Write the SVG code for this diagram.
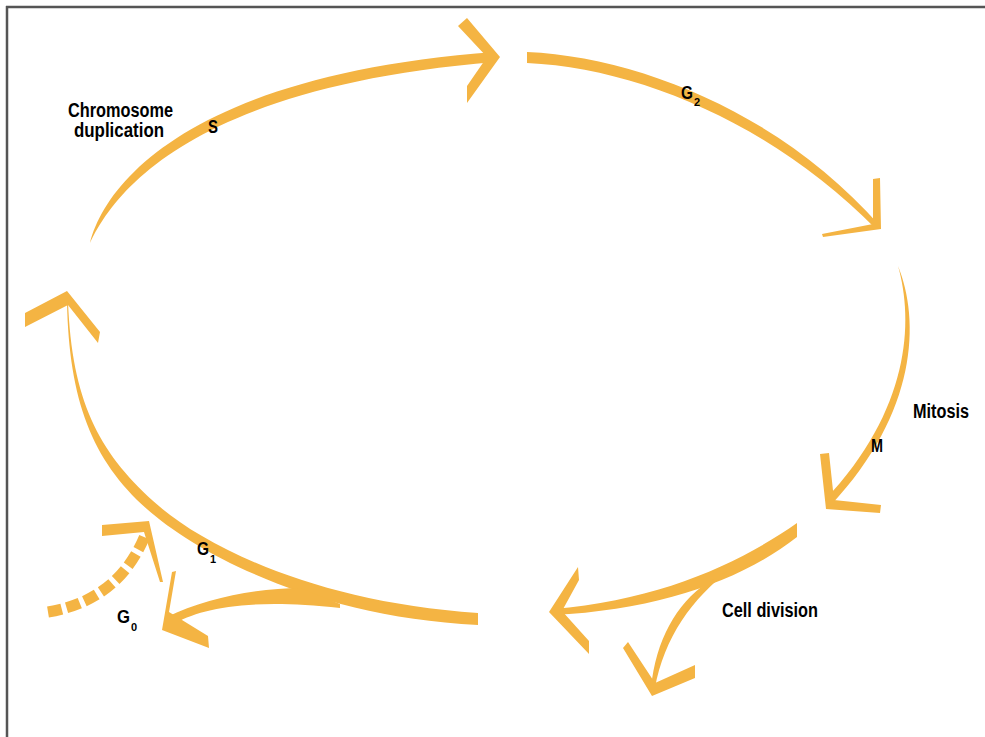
<svg xmlns="http://www.w3.org/2000/svg" width="985" height="737" viewBox="0 0 985 737">
<style>
.arw{fill:#F4B443;stroke:none}
.dash{fill:none;stroke:#F4B443;stroke-width:11;stroke-dasharray:14 5}
.lbl{font-family:"Liberation Sans",Arial,sans-serif;font-weight:bold;fill:#000}
.frame{stroke:#555;stroke-width:2.5;fill:none}
</style>
<rect x="0" y="0" width="985" height="737" fill="#fff"/>
<g id="frame">
<line class="frame" x1="6" y1="7" x2="985" y2="7"/>
<line class="frame" x1="7" y1="6" x2="7" y2="737"/>
</g>
<g id="connectors">
<g id="arrow-S">
<path class="arw" d="M90,243 C106,180 196,74 495,52 L495,62 C205,86 118,183 90,243 Z"/>
<path class="arw" d="M458,26 L467,18 L500,57 L467,103 L467,86 L487,57 Z"/>
</g>
<g id="arrow-G2">
<path class="arw" d="M527,52 C640,57 783,115 880,226 L876,229 C775,126 640,68 527,63 Z"/>
<path class="arw" d="M873,179 L880,178 L881,229 L823,237 L822,234 L873,224 Z"/>
</g>
<g id="arrow-M">
<path class="arw" d="M898,266 C920,320 918,412 831,505 L825,500 C910,410 914,322 898,266 Z"/>
<path class="arw" d="M820,454 L829,453 L834,500 L881,505 L880,513 L826,509 Z"/>
</g>
<g id="arrow-division">
<path class="arw" d="M797,523 C740,563 660,600 553,609 L553,615 C662,610 745,578 797,537 Z"/>
<path class="arw" d="M578,567 L579,580 L562,611 L589,641 L589,654 L549,612 Z"/>
<path class="arw" d="M732,568 C692,598 664,638 655,688 L651,688 C656,640 676,604 707,583 Z"/>
<path class="arw" d="M623,648 L628,642 L655,683 L695,665 L695,678 L652,696 Z"/>
</g>
<g id="arrow-G1">
<path class="arw" d="M67,302 C69,400 92,460 146.6,508.7 C200,556 318,617 478,625 L478,613 C322,603 206,549 153.4,501.3 C98,451 72,400 68,302 Z"/>
<path class="arw" d="M25,313 L67,291 L100,332 L98,343 L68,305 L25,327 Z"/>
<path class="arw" d="M340,604 L300,588 C260,588 205,598 167,617 L172,625 C200,608 250,598 340,608 Z"/>
<path class="arw" d="M172,572 L176,571 L169,612 L208,636 L209,648 L162,630 Z"/>
</g>
<g id="arrow-G0">
<path class="dash" d="M48,612 Q120,600 146,533"/>
<path class="arw" d="M102,525 L149,521 L163,582 L160,582 L144,532 L102,536 Z"/>
</g>
</g>
<g id="labels">
<g id="label-chromosome">
<text class="lbl" x="68" y="117" font-size="20" textLength="105" lengthAdjust="spacingAndGlyphs">Chromosome</text>
<text class="lbl" x="74" y="137" font-size="20" textLength="90" lengthAdjust="spacingAndGlyphs">duplication</text>
</g>
<g id="label-S"><text class="lbl" x="208" y="133" font-size="18" textLength="10" lengthAdjust="spacingAndGlyphs">S</text></g>
<g id="label-G2"><text class="lbl" x="681" y="99" font-size="19" textLength="12" lengthAdjust="spacingAndGlyphs">G</text><text class="lbl" x="694" y="106" font-size="11">2</text></g>
<g id="label-mitosis"><text class="lbl" x="913" y="418" font-size="20" textLength="56" lengthAdjust="spacingAndGlyphs">Mitosis</text></g>
<g id="label-M"><text class="lbl" x="871" y="452" font-size="18" textLength="12" lengthAdjust="spacingAndGlyphs">M</text></g>
<g id="label-division"><text class="lbl" x="722" y="617" font-size="20" textLength="96" lengthAdjust="spacingAndGlyphs">Cell division</text></g>
<g id="label-G1"><text class="lbl" x="197" y="555" font-size="19" textLength="12" lengthAdjust="spacingAndGlyphs">G</text><text class="lbl" x="210" y="563" font-size="11">1</text></g>
<g id="label-G0"><text class="lbl" x="117" y="623" font-size="19" textLength="13" lengthAdjust="spacingAndGlyphs">G</text><text class="lbl" x="131" y="631" font-size="11">0</text></g>
</g>
</svg>
